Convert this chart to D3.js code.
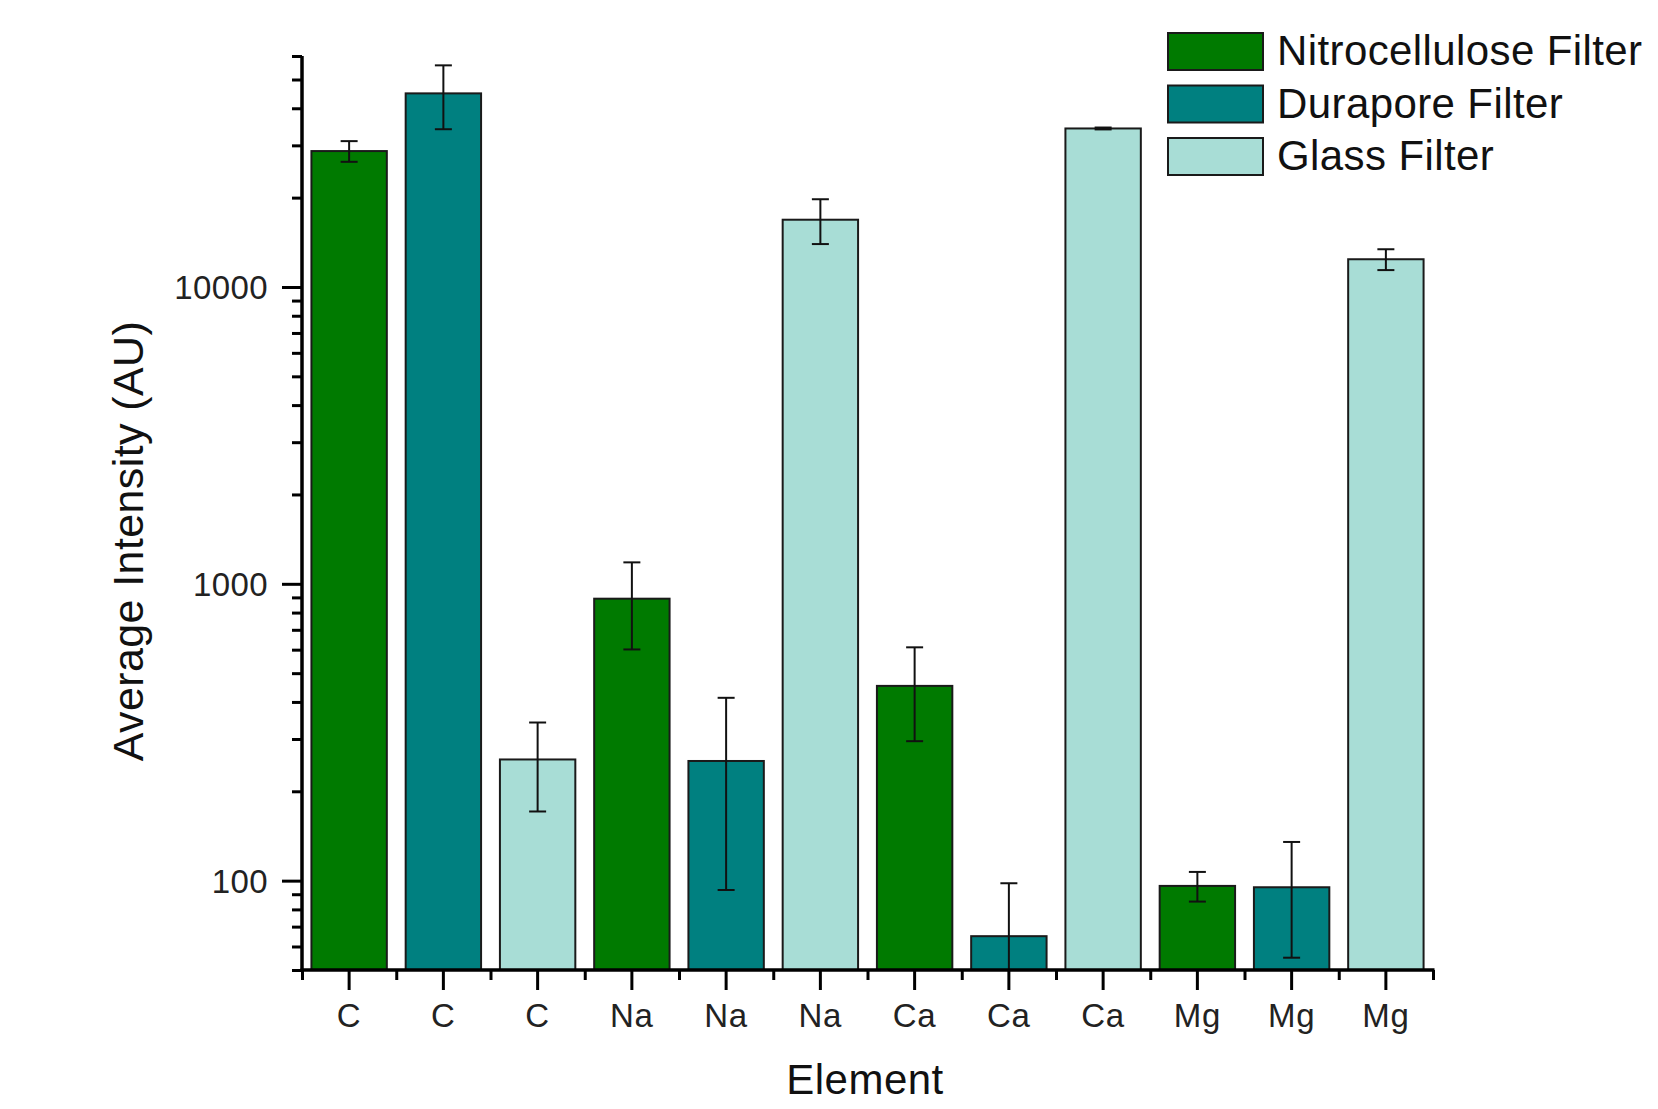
<!DOCTYPE html>
<html>
<head>
<meta charset="utf-8">
<script src="https://cdn.jsdelivr.net/npm/d3@7"></script>
<style>
  html, body { margin: 0; padding: 0; background: #fff; }
  svg { display: block; font-family: "Liberation Sans", Arial, sans-serif; }
</style>
</head>
<body>
<svg id="chart" width="1658" height="1109"></svg>
<script>
// ---- data ----
const categories = ["C", "C", "C", "Na", "Na", "Na", "Ca", "Ca", "Ca", "Mg", "Mg", "Mg"];
const seriesOf   = ["Nitrocellulose Filter", "Durapore Filter", "Glass Filter",
                    "Nitrocellulose Filter", "Durapore Filter", "Glass Filter",
                    "Nitrocellulose Filter", "Durapore Filter", "Glass Filter",
                    "Nitrocellulose Filter", "Durapore Filter", "Glass Filter"];
const values     = [28700, 44900, 256, 891, 253, 16850, 453, 65, 34200, 96, 95, 12400];
const errors     = [2300, 10900, 85, 290, 160, 2900, 158, 33, 250, 11, 40, 1000];
const seriesNames  = ["Nitrocellulose Filter", "Durapore Filter", "Glass Filter"];
const seriesColors = ["#007a00", "#008080", "#a8ddd6"];
const yMajorTicks  = [100, 1000, 10000];
const yMinorTicks  = [50, 60, 70, 80, 90, 200, 300, 400, 500, 600, 700, 800, 900,
                      2000, 3000, 4000, 5000, 6000, 7000, 8000, 9000,
                      20000, 30000, 40000, 50000, 60000];
const xTitle = "Element";
const yTitle = "Average Intensity (AU)";

(function () {
// ---- layout ----
const L = 302, R = 1433, T = 56, B = 970;
const svg = d3.select("#chart");

const ids = categories.map((c, i) => i);
const x = d3.scaleBand().domain(ids).range([L, R]).paddingInner(0.2).paddingOuter(0.1);
const y = d3.scaleLog().domain([50, 60000]).range([B, T]).clamp(true);
const color = d3.scaleOrdinal().domain(seriesNames).range(seriesColors);

// bars
svg.append("g").selectAll("rect").data(ids).join("rect")
  .attr("x", i => x(i))
  .attr("y", i => y(values[i]))
  .attr("width", x.bandwidth())
  .attr("height", i => B - y(values[i]))
  .attr("fill", i => color(seriesOf[i]))
  .attr("stroke", "#1a1a1a")
  .attr("stroke-width", 2);

// error bars
const eb = svg.append("g").attr("stroke", "#111").attr("stroke-width", 2).attr("fill", "none");
const capW = 17;
ids.forEach(i => {
  const cx = x(i) + x.bandwidth() / 2;
  const hi = values[i] + errors[i], lo = values[i] - errors[i];
  const yHi = y(hi), yLo = lo > 0 ? y(lo) : B;
  eb.append("line").attr("x1", cx).attr("x2", cx).attr("y1", yHi).attr("y2", yLo);
  eb.append("line").attr("x1", cx - capW / 2).attr("x2", cx + capW / 2).attr("y1", yHi).attr("y2", yHi);
  if (lo >= 50) eb.append("line").attr("x1", cx - capW / 2).attr("x2", cx + capW / 2).attr("y1", yLo).attr("y2", yLo);
});

// y axis
const yAxisMajor = d3.axisLeft(y).tickValues(yMajorTicks).tickSize(20).tickPadding(14)
  .tickFormat(d3.format("d"));
const yAxisMinor = d3.axisLeft(y).tickValues(yMinorTicks).tickSize(10).tickFormat("");
const gyMinor = svg.append("g").attr("transform", `translate(${L},0)`).call(yAxisMinor);
const gy = svg.append("g").attr("transform", `translate(${L},0)`).call(yAxisMajor);
[gy, gyMinor].forEach(g => {
  g.select(".domain").remove();
  g.selectAll(".tick line").attr("stroke", "#000").attr("stroke-width", 3);
});
gy.selectAll(".tick text").attr("font-size", 33).attr("fill", "#222")
  .attr("font-family", "Liberation Sans, Arial, sans-serif").attr("dy", "0.36em")
  .attr("letter-spacing", 0.4);

// x axis: major ticks at band centres, minor at band boundaries
const xAxis = d3.axisBottom(x).tickSize(20).tickFormat(i => categories[i]);
const gx = svg.append("g").attr("transform", `translate(0,${B})`).call(xAxis);
gx.select(".domain").remove();
gx.selectAll(".tick line").attr("stroke", "#000").attr("stroke-width", 3);
gx.selectAll(".tick text").attr("font-size", 33).attr("fill", "#222")
  .attr("font-family", "Liberation Sans, Arial, sans-serif")
  .attr("y", 57).attr("dy", 0).attr("letter-spacing", 0.8);

const boundaries = d3.range(ids.length + 1);
const xb = d3.scaleLinear().domain([0, ids.length]).range([L, R]);
const xAxisMinor = d3.axisBottom(xb).tickValues(boundaries).tickSize(10).tickFormat("");
const gxm = svg.append("g").attr("transform", `translate(0,${B})`).call(xAxisMinor);
gxm.select(".domain").remove();
gxm.selectAll(".tick line").attr("stroke", "#000").attr("stroke-width", 3);

// axis lines
svg.append("line").attr("x1", L).attr("x2", L).attr("y1", T).attr("y2", B + 1.5)
  .attr("stroke", "#000").attr("stroke-width", 3.5);
svg.append("line").attr("x1", L - 1.5).attr("x2", R + 1.5).attr("y1", B).attr("y2", B)
  .attr("stroke", "#000").attr("stroke-width", 3.5);

// titles
svg.append("text").attr("x", 865).attr("y", 1094).attr("text-anchor", "middle")
  .attr("font-size", 42).attr("letter-spacing", 0.5).attr("fill", "#111").text(xTitle);
svg.append("text").attr("transform", "translate(143,541) rotate(-90)").attr("text-anchor", "middle")
  .attr("font-size", 43).attr("letter-spacing", 0.4).attr("fill", "#111").text(yTitle);

// legend
const lg = svg.append("g");
seriesNames.forEach((name, k) => {
  const yy = 33 + k * 52.5;
  lg.append("rect").attr("x", 1168).attr("y", yy).attr("width", 95).attr("height", 37)
    .attr("fill", color(name)).attr("stroke", "#1a1a1a").attr("stroke-width", 2);
  lg.append("text").attr("x", 1277).attr("y", yy + 32).attr("font-size", 42)
    .attr("letter-spacing", 0.4).attr("fill", "#111").text(name);
});
})();
</script>
</body>
</html>
